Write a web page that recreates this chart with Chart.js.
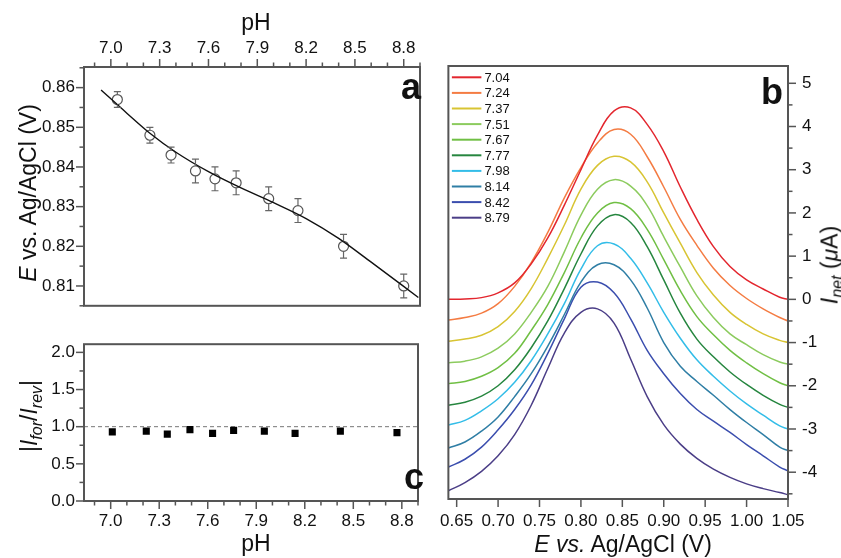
<!DOCTYPE html>
<html>
<head>
<meta charset="utf-8">
<title>Peak potential vs pH</title>
<script src="https://cdn.jsdelivr.net/npm/chart.js@4.4.1/dist/chart.umd.min.js"></script>
<style>
  body { margin: 0; background: #fff; }
  #fig { position: relative; width: 841px; height: 558px; overflow: hidden; background: #fff;
         font-family: "Liberation Sans", Arial, sans-serif; color: #111; }
  #fig canvas { position: absolute; }
  .t { position: absolute; white-space: nowrap; font-size: 23px; line-height: 1; transform: translate(-50%, -50%); }
  .t.v { transform: translate(-50%, -50%) rotate(-90deg); }
  .t sub { font-size: 16px; vertical-align: -5px; line-height: 0; }
  .p { position: absolute; font-size: 36px; font-weight: bold; line-height: 1; }
</style>
</head>
<body>
<div id="fig">
  <canvas id="chartA" width="428" height="325" style="left:0;top:0"></canvas>
  <canvas id="chartC" width="428" height="233" style="left:0;top:325px"></canvas>
  <canvas id="chartB" width="413" height="558" style="left:428px;top:0"></canvas>

  <div class="t" style="left:256px;top:22px">pH</div>
  <div class="t v" style="left:28px;top:193px"><i>E</i> vs. Ag/AgCl (V)</div>
  <div class="t v" style="left:29px;top:416px">|<i>I</i><sub><i>for</i></sub>/<i>I</i><sub><i>rev</i></sub>|</div>
  <div class="t" style="left:256px;top:543px">pH</div>
  <div class="t" style="left:623px;top:544px"><i>E vs.</i> Ag/AgCl (V)</div>
  <div class="t v" style="left:830px;top:265px"><i>I</i><sub><i>net</i></sub> (<i>μ</i>A)</div>

  <div class="p" style="left:401px;top:69px">a</div>
  <div class="p" style="left:761px;top:74px">b</div>
  <div class="p" style="left:404px;top:459px">c</div>
</div>

<script>
const FONT = '"Liberation Sans", Arial, sans-serif';
const INK = '#111';
const FRAME = '#555';

// --- panel a: peak potential vs pH (open circles + fit) ---
const PH_A = [7.04, 7.24, 7.37, 7.52, 7.64, 7.77, 7.97, 8.15, 8.43, 8.80];
const E_PEAK = [0.857, 0.848, 0.843, 0.839, 0.837, 0.836, 0.832, 0.829, 0.820, 0.810];
const E_ERR = [0.002, 0.002, 0.002, 0.003, 0.003, 0.003, 0.003, 0.003, 0.003, 0.003];
const FIT_PH = [6.94, 7.10, 7.24, 7.40, 7.60, 7.80, 8.00, 8.20, 8.40, 8.60, 8.89];
const FIT_E = [0.8594, 0.8535, 0.8485, 0.8437, 0.8388, 0.8347, 0.8310, 0.8270, 0.8220, 0.8160, 0.8071];

// --- panel c: |Ifor/Irev| vs pH ---
const PH_C = [7.01, 7.22, 7.35, 7.49, 7.63, 7.76, 7.95, 8.14, 8.42, 8.77];
const RATIO = [0.93, 0.94, 0.90, 0.96, 0.91, 0.95, 0.94, 0.91, 0.94, 0.92];
const RATIO_REF = 1.0;

// --- panel b: net current curves, offset per pH ---
const E_SCAN = [0.64, 0.66, 0.68, 0.70, 0.72, 0.74, 0.76, 0.78, 0.80, 0.82, 0.84,
                0.86, 0.88, 0.90, 0.92, 0.94, 0.96, 0.98, 1.00, 1.02, 1.04, 1.05];
const I_704 = [0.00, 0.01, 0.04, 0.15, 0.38, 0.82, 1.42, 2.18, 3.00, 3.80, 4.36, 4.43, 4.05, 3.42, 2.60, 1.85, 1.22, 0.76, 0.45, 0.24, 0.05, 0.00];
const I_724 = [-0.48, -0.42, -0.32, -0.10, 0.30, 0.85, 1.55, 2.35, 3.05, 3.62, 3.93, 3.82, 3.30, 2.60, 1.85, 1.25, 0.72, 0.32, 0.02, -0.22, -0.42, -0.50];
const I_737 = [-0.97, -0.92, -0.83, -0.63, -0.28, 0.25, 0.95, 1.72, 2.55, 3.10, 3.31, 3.18, 2.72, 2.00, 1.30, 0.62, 0.10, -0.30, -0.58, -0.80, -0.95, -1.00];
const I_751 = [-1.47, -1.43, -1.33, -1.13, -0.80, -0.30, 0.30, 1.10, 1.95, 2.55, 2.77, 2.62, 2.17, 1.45, 0.75, 0.08, -0.42, -0.80, -1.05, -1.28, -1.45, -1.50];
const I_767 = [-1.95, -1.90, -1.78, -1.58, -1.25, -0.72, -0.12, 0.62, 1.42, 2.00, 2.24, 2.10, 1.62, 0.92, 0.20, -0.40, -0.82, -1.18, -1.47, -1.72, -1.93, -2.00];
const I_777 = [-2.45, -2.38, -2.24, -2.00, -1.63, -1.12, -0.50, 0.25, 1.05, 1.70, 1.96, 1.78, 1.22, 0.45, -0.32, -0.92, -1.33, -1.68, -1.97, -2.22, -2.43, -2.50];
const I_798 = [-2.91, -2.80, -2.58, -2.30, -1.92, -1.42, -0.80, -0.10, 0.70, 1.24, 1.28, 0.95, 0.38, -0.30, -0.90, -1.40, -1.78, -2.12, -2.42, -2.68, -2.93, -3.00];
const I_814 = [-3.44, -3.30, -3.05, -2.72, -2.25, -1.72, -1.08, -0.35, 0.40, 0.80, 0.80, 0.45, -0.20, -1.00, -1.55, -1.90, -2.22, -2.55, -2.85, -3.13, -3.42, -3.50];
const I_842 = [-3.88, -3.70, -3.42, -3.02, -2.55, -1.98, -1.25, -0.45, 0.28, 0.40, 0.15, -0.45, -1.18, -1.72, -2.18, -2.55, -2.82, -3.08, -3.36, -3.62, -3.88, -3.97];
const I_879 = [-4.43, -4.24, -3.98, -3.62, -3.13, -2.45, -1.60, -0.78, -0.30, -0.22, -0.55, -1.38, -2.25, -2.90, -3.35, -3.68, -3.93, -4.12, -4.27, -4.38, -4.47, -4.52];
const CURVES = [I_704, I_724, I_737, I_751, I_767, I_777, I_798, I_814, I_842, I_879];
const CURVE_LABELS = ['7.04', '7.24', '7.37', '7.51', '7.67', '7.77', '7.98', '8.14', '8.42', '8.79'];
const CURVE_COLORS = ['#e3262e', '#f47c43', '#d8c433', '#8ccb5e', '#70bf44',
                      '#26863f', '#33bde8', '#2f7ea5', '#3b4eae', '#4b3e87'];

// helpers
function onGrid(v, step) {
  const q = v / step;
  return Math.abs(q - Math.round(q)) < 1e-6;
}
function pts(xs, ys) {
  return xs.map((x, i) => ({ x: x, y: ys[i] }));
}

// axis with ticks drawn by the frame plugin, labels by Chart.js
function linAxis(position, min, max, step, size, pad, label) {
  const horizontal = position === 'top' || position === 'bottom';
  return {
    type: 'linear', position: position, min: min, max: max,
    grid: { display: false, drawTicks: false },
    border: { display: false },
    ticks: {
      stepSize: step, includeBounds: false, autoSkip: false, maxRotation: 0, minRotation: 0,
      padding: pad, color: INK, font: { family: FONT, size: 17 }, callback: label
    },
    afterBuildTicks: s => { s.ticks = s.ticks.filter(t => onGrid(t.value, step)); },
    afterFit: s => { if (horizontal) s.height = size; else s.width = size; }
  };
}

// box round the plot + outward major/minor tick marks
function framePlugin(majorTest) {
  return {
    id: 'frame',
    afterDraw(chart) {
      const ctx = chart.ctx, a = chart.chartArea;
      ctx.save();
      ctx.strokeStyle = FRAME;
      ctx.lineWidth = 1.5;
      Object.keys(majorTest).forEach(id => {
        const s = chart.scales[id];
        s.ticks.forEach(t => {
          const p = s.getPixelForValue(t.value);
          const len = majorTest[id](t.value) ? 8 : 4.5;
          ctx.beginPath();
          if (s.position === 'left') { ctx.moveTo(a.left, p); ctx.lineTo(a.left - len, p); }
          if (s.position === 'right') { ctx.moveTo(a.right, p); ctx.lineTo(a.right + len, p); }
          if (s.position === 'top') { ctx.moveTo(p, a.top); ctx.lineTo(p, a.top - len); }
          if (s.position === 'bottom') { ctx.moveTo(p, a.bottom); ctx.lineTo(p, a.bottom + len); }
          ctx.stroke();
        });
      });
      ctx.lineWidth = 2;
      ctx.strokeRect(a.left, a.top, a.right - a.left, a.bottom - a.top);
      ctx.restore();
    }
  };
}

const errorBars = {
  id: 'errorBars',
  afterDatasetsDraw(chart) {
    const ctx = chart.ctx, x = chart.scales.x, y = chart.scales.y;
    ctx.save();
    ctx.strokeStyle = '#666';
    ctx.lineWidth = 1.2;
    PH_A.forEach((ph, i) => {
      const px = x.getPixelForValue(ph);
      const c = y.getPixelForValue(E_PEAK[i]);
      const hi = y.getPixelForValue(E_PEAK[i] + E_ERR[i]);
      const lo = y.getPixelForValue(E_PEAK[i] - E_ERR[i]);
      ctx.beginPath();
      ctx.moveTo(px - 3.5, hi); ctx.lineTo(px + 3.5, hi);
      ctx.moveTo(px, hi); ctx.lineTo(px, c - 5);
      ctx.moveTo(px, c + 5); ctx.lineTo(px, lo);
      ctx.moveTo(px - 3.5, lo); ctx.lineTo(px + 3.5, lo);
      ctx.stroke();
    });
    ctx.restore();
  }
};

const inlineLegend = {
  id: 'inlineLegend',
  afterDraw(chart) {
    const ctx = chart.ctx, a = chart.chartArea;
    ctx.save();
    ctx.font = '13px ' + FONT;
    ctx.textBaseline = 'middle';
    ctx.fillStyle = INK;
    chart.data.datasets.forEach((ds, i) => {
      const y = a.top + 11.3 + i * 15.6;
      ctx.strokeStyle = ds.borderColor;
      ctx.lineWidth = 2;
      ctx.beginPath();
      ctx.moveTo(a.left + 3.5, y);
      ctx.lineTo(a.left + 33, y);
      ctx.stroke();
      ctx.fillText(ds.label, a.left + 36, y + 1);
    });
    ctx.restore();
  }
};

const phMajor = v => onGrid(v - 7.0, 0.3);
const phLabel = v => phMajor(v) ? v.toFixed(1) : '';

const common = {
  responsive: false,
  animation: false,
  events: [],
  plugins: { legend: { display: false }, tooltip: { enabled: false } }
};

// panel a
new Chart(document.getElementById('chartA'), {
  type: 'scatter',
  data: {
    datasets: [
      { label: 'fit', data: pts(FIT_PH, FIT_E), showLine: true, borderColor: '#111', borderWidth: 1.4,
        pointRadius: 0, cubicInterpolationMode: 'monotone' },
      { label: 'E', data: pts(PH_A, E_PEAK), pointRadius: 5, pointBorderWidth: 1.2,
        pointBorderColor: '#555', pointBackgroundColor: 'rgba(255,255,255,0)' }
    ]
  },
  options: Object.assign({}, common, {
    layout: { padding: { left: 0, right: 6, top: 0, bottom: 3 } },
    scales: {
      x: linAxis('top', 6.835, 8.9, 0.1, 67, 8, phLabel),
      y: linAxis('left', 0.805, 0.8652, 0.005, 84, 9, v => onGrid(v, 0.01) ? v.toFixed(2) : '')
    }
  }),
  plugins: [errorBars, framePlugin({ x: phMajor, y: v => onGrid(v, 0.01) })]
});

// panel c
new Chart(document.getElementById('chartC'), {
  type: 'scatter',
  data: {
    datasets: [
      { label: 'ratio', data: pts(PH_C, RATIO), pointStyle: 'rect', pointRadius: 5,
        pointBackgroundColor: '#000', pointBorderColor: '#000', pointBorderWidth: 0 },
      { label: 'ref', data: pts([6.835, 8.9], [RATIO_REF, RATIO_REF]), showLine: true, pointRadius: 0,
        borderColor: '#777', borderWidth: 1, borderDash: [4, 3] }
    ]
  },
  options: Object.assign({}, common, {
    layout: { padding: { left: 0, right: 6, top: 3, bottom: 0 } },
    scales: {
      x: linAxis('bottom', 6.835, 8.9, 0.1, 57, 10, phLabel),
      y: linAxis('left', 0, 2.11, 0.25, 84, 9, v => onGrid(v, 0.5) ? v.toFixed(1) : '')
    }
  }),
  plugins: [framePlugin({ x: phMajor, y: v => onGrid(v, 0.5) })]
});

// panel b
new Chart(document.getElementById('chartB'), {
  type: 'scatter',
  data: {
    datasets: CURVE_LABELS.map((lab, k) => ({
      label: lab, data: pts(E_SCAN, CURVES[k]), showLine: true, pointRadius: 0,
      borderColor: CURVE_COLORS[k], borderWidth: 1.5, tension: 0.4
    }))
  },
  options: Object.assign({}, common, {
    layout: { padding: { left: 5, right: 0, top: 66, bottom: 0 } },
    scales: {
      x: linAxis('bottom', 0.64, 1.05, 0.05, 59, 12, v => v.toFixed(2)),
      y: linAxis('right', -4.62, 5.4, 0.5, 53, 14, v => onGrid(v, 1) ? String(Math.round(v)) : '')
    }
  }),
  plugins: [inlineLegend, framePlugin({ x: () => true, y: v => onGrid(v, 1) })]
});
</script>
</body>
</html>
